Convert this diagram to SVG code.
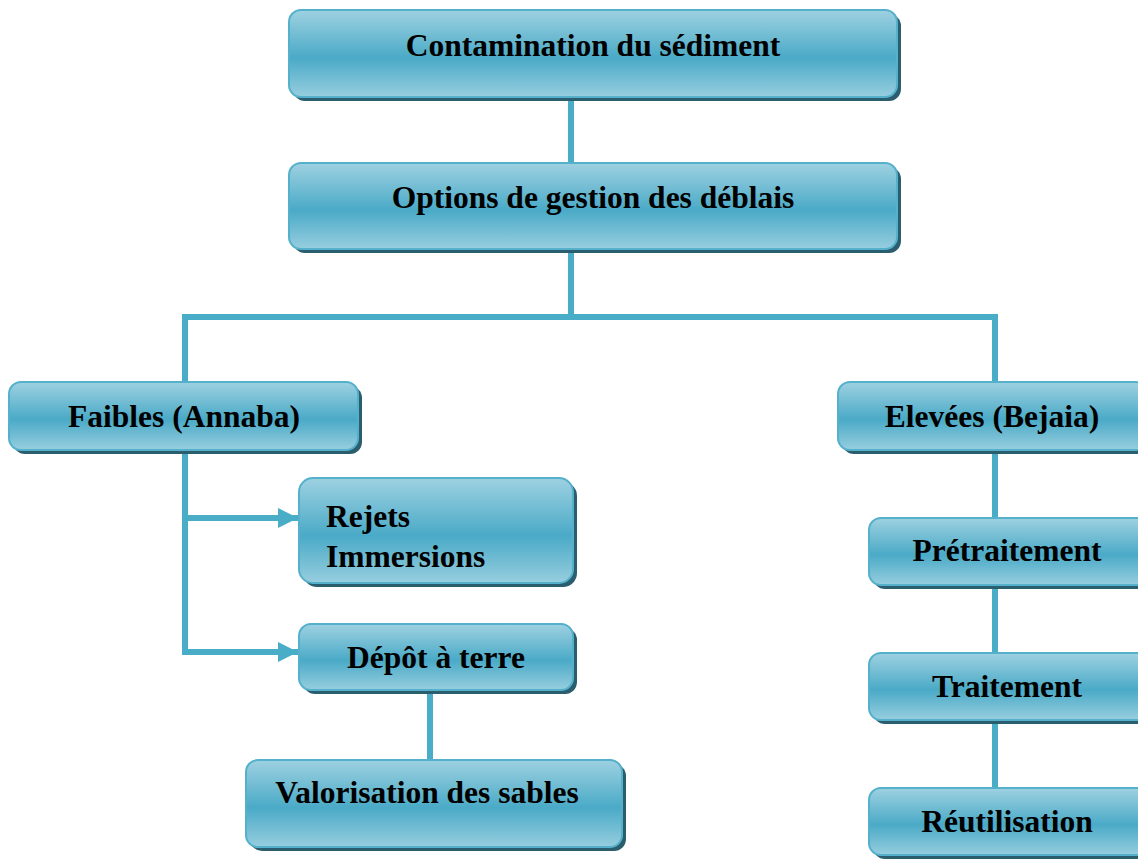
<svg xmlns="http://www.w3.org/2000/svg" width="1138" height="859" viewBox="0 0 1138 859">
  <style>
    .box { fill: url(#boxFill); stroke: #55b1cb; stroke-width: 2; }
    .shadow { fill: #2a5d6d; }
    .lbl { font-family: "Liberation Serif", "Times New Roman", serif; font-weight: bold; font-size: 31.5px; fill: #000; }
    .mid { text-anchor: middle; }
    .link { stroke: #4aadc8; stroke-width: 6; fill: none; }
  </style>
  <defs>
    <linearGradient id="boxFill" x1="0" y1="0" x2="0" y2="1">
      <stop offset="0" stop-color="#9ed1e1"/>
      <stop offset="0.55" stop-color="#4aaac7"/>
      <stop offset="1" stop-color="#97cedf"/>
    </linearGradient>
    <marker id="arrow" viewBox="0 0 10 10" refX="10" refY="5" markerWidth="3.4" markerHeight="3.4" markerUnits="strokeWidth" orient="auto">
      <path d="M0,0 L10,5 L0,10 z" fill="#4aadc8"/>
    </marker>
  </defs>

  <!-- connectors -->
  <g id="connectors">
    <line class="link" x1="571" y1="96" x2="571" y2="164"/>
    <line class="link" x1="571" y1="248" x2="571" y2="317"/>
    <polyline class="link" points="185,383 185,317 995,317 995,383"/>
    <line class="link" x1="185" y1="450" x2="185" y2="655"/>
    <line class="link" x1="182" y1="518" x2="298" y2="518" marker-end="url(#arrow)"/>
    <line class="link" x1="182" y1="652" x2="298" y2="652" marker-end="url(#arrow)"/>
    <line class="link" x1="430" y1="690" x2="430" y2="761"/>
    <line class="link" x1="995" y1="450" x2="995" y2="519"/>
    <line class="link" x1="995" y1="585" x2="995" y2="654"/>
    <line class="link" x1="995" y1="720" x2="995" y2="789"/>
  </g>

  <g id="contamination">
    <rect class="shadow" x="293" y="14" width="608" height="87" rx="12"/>
    <rect class="box" x="289" y="10" width="608" height="87" rx="12"/>
    <text class="lbl mid" x="593" y="56">Contamination du sédiment</text>
  </g>

  <g id="options">
    <rect class="shadow" x="293" y="167" width="608" height="86" rx="12"/>
    <rect class="box" x="289" y="163" width="608" height="86" rx="12"/>
    <text class="lbl mid" x="593" y="208">Options de gestion des déblais</text>
  </g>

  <g id="faibles">
    <rect class="shadow" x="13" y="386" width="349" height="68" rx="12"/>
    <rect class="box" x="9" y="382" width="349" height="68" rx="12"/>
    <text class="lbl mid" x="184" y="427">Faibles (Annaba)</text>
  </g>

  <g id="elevees">
    <rect class="shadow" x="842" y="386" width="310" height="68" rx="12"/>
    <rect class="box" x="838" y="382" width="310" height="68" rx="12"/>
    <text class="lbl mid" x="992" y="427">Elevées (Bejaia)</text>
  </g>

  <g id="rejets">
    <rect class="shadow" x="303" y="482" width="274" height="105" rx="14"/>
    <rect class="box" x="299" y="478" width="274" height="105" rx="14"/>
    <text class="lbl" x="326" y="527">Rejets</text>
    <text class="lbl" x="326" y="567">Immersions</text>
  </g>

  <g id="depot">
    <rect class="shadow" x="303" y="628" width="274" height="66" rx="12"/>
    <rect class="box" x="299" y="624" width="274" height="66" rx="12"/>
    <text class="lbl mid" x="436" y="668">Dépôt à terre</text>
  </g>

  <g id="valorisation">
    <rect class="shadow" x="250" y="764" width="376" height="87" rx="12"/>
    <rect class="box" x="246" y="760" width="376" height="87" rx="12"/>
    <text class="lbl mid" x="427" y="803">Valorisation des sables</text>
  </g>

  <g id="pretraitement">
    <rect class="shadow" x="873" y="522" width="280" height="67" rx="12"/>
    <rect class="box" x="869" y="518" width="280" height="67" rx="12"/>
    <text class="lbl mid" x="1007" y="561">Prétraitement</text>
  </g>

  <g id="traitement">
    <rect class="shadow" x="873" y="657" width="280" height="67" rx="12"/>
    <rect class="box" x="869" y="653" width="280" height="67" rx="12"/>
    <text class="lbl mid" x="1007" y="697">Traitement</text>
  </g>

  <g id="reutilisation">
    <rect class="shadow" x="873" y="792" width="280" height="67" rx="12"/>
    <rect class="box" x="869" y="788" width="280" height="67" rx="12"/>
    <text class="lbl mid" x="1007" y="832">Réutilisation</text>
  </g>
</svg>
